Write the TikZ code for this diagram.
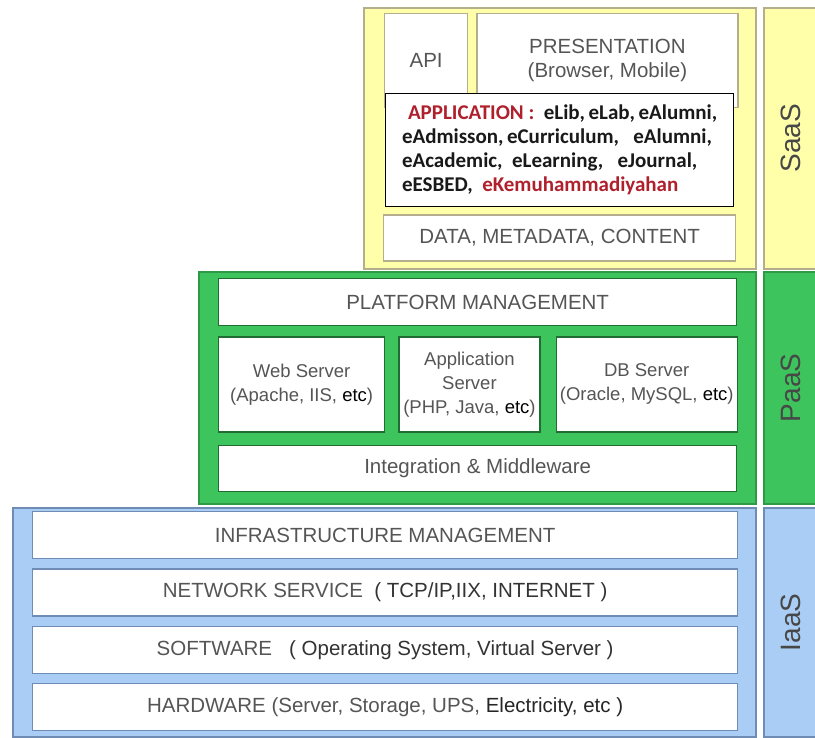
\documentclass[tikz,border=0pt]{standalone}
\usepackage{fontspec}
\setmainfont{Liberation Sans}
\newfontfamily\appfont{Carlito}
\usetikzlibrary{positioning}
\definecolor{saasfill}{HTML}{FFFFAA}
\definecolor{saasline}{HTML}{B4AE8C}
\definecolor{paasfill}{HTML}{3DC45C}
\definecolor{paasline}{HTML}{2E9A48}
\definecolor{iaasfill}{HTML}{AACDF5}
\definecolor{iaasline}{HTML}{6E8CB4}
\definecolor{boxtext}{HTML}{555555}
\definecolor{appred}{HTML}{B0202C}
\tikzset{
  panel/.style={rectangle,draw,line width=1.6pt,inner sep=0pt,anchor=north west},
  tag/.style={panel,font=\fontsize{28}{30}\selectfont,text=black!72,minimum width=54pt},
  layer/.style={rectangle,draw,fill=white,line width=1.3pt,inner sep=0pt,align=center,
    text=boxtext,font=\fontsize{20.5}{24}\selectfont},
  server/.style={layer,draw=paasline!70!black,minimum height=95pt,font=\fontsize{18.5}{24}\selectfont},
  appbox/.style={layer,draw=black,text=black!90,align=left,
    font=\appfont\bfseries\fontsize{21}{24}\selectfont}
}

\begin{document}
\begin{tikzpicture}
  \useasboundingbox (0,0) rectangle (815pt,-738pt);
  \node[panel, fill=saasfill, draw=saasline, minimum width=392pt, minimum height=261pt] (saas) at (363pt,-7pt) {};
  \node[tag, fill=saasfill, draw=saasline, minimum height=261pt] (saastag) at (763pt,-7pt) {\rotatebox{90}{SaaS}};
  \node[layer, draw=saasline, minimum width=83pt, minimum height=94pt, below right=6pt and 21pt of saas.north west] (api) {API};
  \node[layer, draw=saasline, minimum width=261pt, minimum height=94pt, right=8pt of api] (pres) {PRESENTATION\\(Browser, Mobile)};
  \node[appbox, minimum width=348pt, minimum height=113pt, below right=86pt and 22pt of saas.north west] (app)
    {\hspace{6pt}\textcolor{appred}{APPLICATION :}\ \ eLib,\,eLab,\,eAlumni,\\
     eAdmisson,\,eCurriculum,\ \ \ eAlumni,\\
     eAcademic,\ \ eLearning,\ \ \ eJournal,\\
     eESBED,\ \ \textcolor{appred}{eKemuhammadiyahan}};
  \node[layer, draw=saasline, minimum width=352pt, minimum height=46pt, below=7pt of app] (data) {DATA, METADATA, CONTENT};

  \node[panel, fill=paasfill, draw=paasline, minimum width=557pt, minimum height=232pt] (paas) at (198pt,-271pt) {};
  \node[tag, fill=paasfill, draw=paasline, minimum height=232pt] (paastag) at (763pt,-271pt) {\rotatebox{90}{PaaS}};
  \node[layer, draw=paasline!70!black, minimum width=518pt, minimum height=47pt, below right=7pt and 20pt of paas.north west] (platform) {PLATFORM MANAGEMENT};
  \node[server, minimum width=166pt, below right=10pt and 0pt of platform.south west] (web)
    {Web Server\\(Apache, IIS, \textcolor{black}{etc})};
  \node[server, minimum width=141pt, right=13pt of web] (appsrv)
    {Application\\Server\\(PHP, Java, \textcolor{black}{etc})};
  \node[server, minimum width=181pt, right=15pt of appsrv] (db)
    {DB Server\\(Oracle, MySQL, \textcolor{black}{etc})};
  \node[layer, draw=paasline!70!black, minimum width=518pt, minimum height=46pt, below right=12pt and 0pt of web.south west] (integ) {Integration \& Middleware};

  \node[panel, fill=iaasfill, draw=iaasline, minimum width=743pt, minimum height=229pt] (iaas) at (12pt,-507pt) {};
  \node[tag, fill=iaasfill, draw=iaasline, minimum height=229pt] (iaastag) at (763pt,-507pt) {\rotatebox{90}{IaaS}};
  \node[layer, draw=iaasline, minimum width=705pt, minimum height=47pt, below right=4pt and 20pt of iaas.north west] (infra) {INFRASTRUCTURE MANAGEMENT};
  \node[layer, draw=iaasline, minimum width=705pt, minimum height=47pt, below=9pt of infra] (network)
    {NETWORK SERVICE\ \ \textcolor{black!80}{( TCP/IP,IIX, INTERNET )}};
  \node[layer, draw=iaasline, minimum width=705pt, minimum height=47pt, below=9pt of network] (software)
    {SOFTWARE\ \ \ \textcolor{black!80}{( Operating System, Virtual Server )}};
  \node[layer, draw=iaasline, minimum width=705pt, minimum height=47pt, below=9pt of software] (hardware)
    {HARDWARE (Server, Storage, UPS, \textcolor{black!85}{Electricity, etc )}};
\end{tikzpicture}
\end{document}
